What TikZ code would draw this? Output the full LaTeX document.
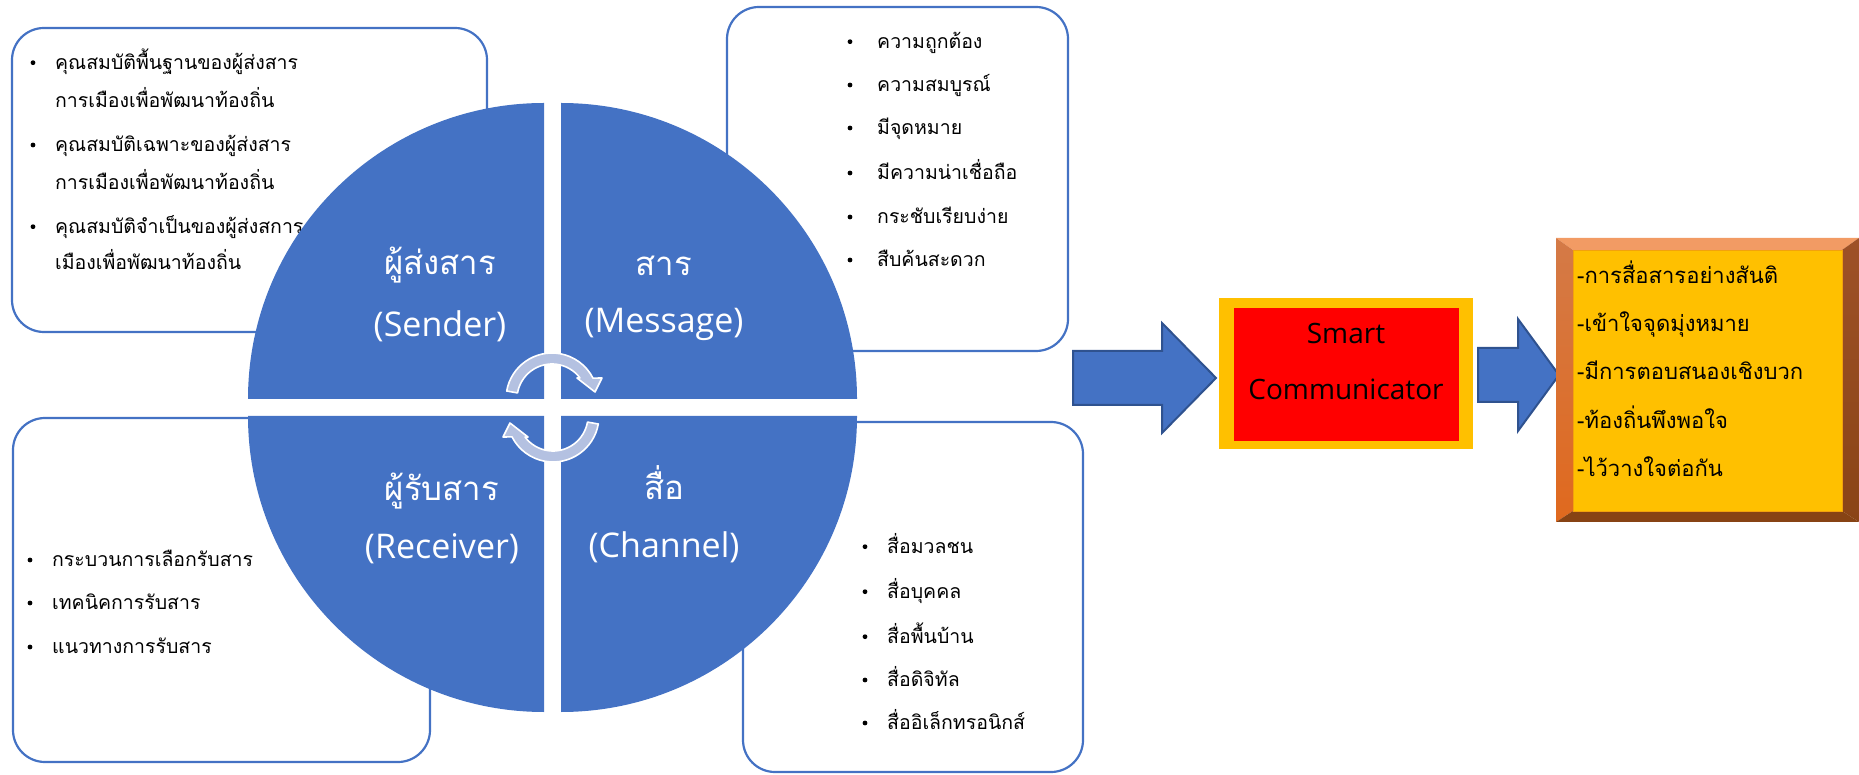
\documentclass[tikz,border=0pt]{standalone}
\usepackage{fontspec}
\setmainfont{Open Sans}
\newfontfamily\thai[Script=Thai]{Loma}
\definecolor{blueA}{HTML}{4472C4}
\definecolor{blueD}{HTML}{2F528F}
\definecolor{cycfill}{HTML}{B4C1E1}
\definecolor{gold}{HTML}{FFC000}
\definecolor{goldline}{HTML}{F2A20C}
\definecolor{bevtop}{HTML}{F29B64}
\definecolor{bevleftA}{HTML}{D47A47}
\definecolor{bevleftB}{HTML}{E0691E}
\definecolor{bevrightA}{HTML}{9E5127}
\definecolor{bevrightB}{HTML}{8A4416}
\definecolor{bevbot}{HTML}{874314}
\begin{document}
\begin{tikzpicture}[x=1pt,y=1pt,
  box/.style={draw=blueA, line width=2.2pt, fill=white, rounded corners=32pt,
    inner sep=0pt, outer sep=0pt, anchor=south west},
  quad/.style={fill=blueA},
  cyc/.style={fill=cycfill, draw=white, line width=1.6pt, line join=round},
  blockarrow/.style={fill=blueA, draw=blueD, line width=2pt, line join=miter},
  item/.style={anchor=base west, inner sep=0pt, text=black,
    font=\thai\fontsize{19.5}{23}\selectfont},
  result/.style={anchor=base west, inner sep=0pt, text=black,
    font=\thai\fontsize{22}{26}\selectfont},
  labth/.style={anchor=base, inner sep=0pt, text=white,
    font=\thai\fontsize{33}{38}\selectfont},
  laben/.style={anchor=base, inner sep=0pt, text=white,
    font=\fontsize{34}{40}\selectfont},
  smarttext/.style={anchor=base, inner sep=0pt, text=black,
    font=\fontsize{28}{32}\selectfont},
  dot/.style={fill=black}
]
\useasboundingbox (0,0) rectangle (1859,774);

% four text panels behind the circle
\node[box, minimum width=475pt, minimum height=304pt] (boxTL) at (12,442) {};
\node[box, minimum width=341pt, minimum height=344pt] (boxTR) at (727,423) {};
\node[box, minimum width=417pt, minimum height=344pt] (boxBL) at (13,12) {};
\node[box, minimum width=340pt, minimum height=350pt] (boxBR) at (743,2) {};

% sender qualities
\foreach \y in {711.3,629,547.3} \fill[dot] (33,\y) circle[radius=2.4];
\node[item] (tl1) at (55,704.7) {คุณสมบัติพื้นฐานของผู้ส่งสาร};
\node[item] (tl2) at (55,666.7) {การเมืองเพื่อพัฒนาท้องถิ่น};
\node[item] (tl3) at (55,622.3) {คุณสมบัติเฉพาะของผู้ส่งสาร};
\node[item] (tl4) at (55,584.7) {การเมืองเพื่อพัฒนาท้องถิ่น};
\node[item] (tl5) at (55,540.7) {คุณสมบัติจำเป็นของผู้ส่งสการ};
\node[item] (tl6) at (55,504.7) {เมืองเพื่อพัฒนาท้องถิ่น};

% message qualities
\foreach \y in {732.3,689,646,601,557,514} \fill[dot] (850,\y) circle[radius=2.4];
\node[item] (tr1) at (877,725.7) {ความถูกต้อง};
\node[item] (tr2) at (877,682.4) {ความสมบูรณ์};
\node[item] (tr3) at (877,639.4) {มีจุดหมาย};
\node[item] (tr4) at (877,594.4) {มีความน่าเชื่อถือ};
\node[item] (tr5) at (877,550.4) {กระชับเรียบง่าย};
\node[item] (tr6) at (877,507.4) {สืบค้นสะดวก};

% receiver items
\foreach \y in {214,171,127} \fill[dot] (30,\y) circle[radius=2.4];
\node[item] (bl1) at (52,207.4) {กระบวนการเลือกรับสาร};
\node[item] (bl2) at (52,164.4) {เทคนิคการรับสาร};
\node[item] (bl3) at (52,120.4) {แนวทางการรับสาร};

% channel items
\foreach \y in {227.3,182.3,137.3,94,51} \fill[dot] (865,\y) circle[radius=2.4];
\node[item] (br1) at (887,220.7) {สื่อมวลชน};
\node[item] (br2) at (887,175.7) {สื่อบุคคล};
\node[item] (br3) at (887,130.7) {สื่อพื้นบ้าน};
\node[item] (br4) at (887,87.4) {สื่อดิจิทัล};
\node[item] (br5) at (887,44.4) {สื่ออิเล็กทรอนิกส์};

% segmented circle
\fill[quad] (544,375) -- (248,375) arc[start angle=180, end angle=90, radius=296] -- cycle;
\fill[quad] (561,375) -- (561,671) arc[start angle=90, end angle=0, radius=296] -- cycle;
\fill[quad] (544,358) -- (544,62) arc[start angle=270, end angle=180, radius=296] -- cycle;
\fill[quad] (561,358) -- (857,358) arc[start angle=0, end angle=-90, radius=296] -- cycle;

% cycle arrows at the centre
\draw[cyc, shift={(552,375)}] (170:46) arc[start angle=170, end angle=27, radius=46]
  -- (50,21) -- (43,7) -- (25,21) -- (37:35) arc[start angle=37, end angle=170, radius=35] -- cycle;
\draw[cyc, shift={(553,358)}, rotate=180] (170:46) arc[start angle=170, end angle=27, radius=46]
  -- (50,21) -- (43,7) -- (25,21) -- (37:35) arc[start angle=37, end angle=170, radius=35] -- cycle;

% quadrant labels
\node[labth] (sendTh) at (440,499.5) {ผู้ส่งสาร};
\node[laben] (sendEn) at (440,437) {(Sender)};
\node[labth] (msgTh) at (664,498) {สาร};
\node[laben] (msgEn) at (664,441) {(Message)};
\node[labth] (recvTh) at (442,273) {ผู้รับสาร};
\node[laben] (recvEn) at (442,215.5) {(Receiver)};
\node[labth] (chanTh) at (664,274) {สื่อ};
\node[laben] (chanEn) at (664,217) {(Channel)};

% block arrow into the communicator box
\draw[blockarrow] (1073,423) -- (1162,423) -- (1162,451) -- (1216,396)
  -- (1162,341) -- (1162,369) -- (1073,369) -- cycle;

% communicator box
\fill[gold] (1219,325) rectangle (1473,476);
\node[fill=red, inner sep=0pt, outer sep=0pt, anchor=south west,
  minimum width=225pt, minimum height=133pt] (comm) at (1234,333) {};
\node[smarttext] (smart1) at (1346,430) {Smart};
\node[smarttext] (smart2) at (1346,374) {Communicator};

% block arrow into the outcome box
\draw[blockarrow] (1478,426) -- (1518,426) -- (1518,455) -- (1559,399)
  -- (1518,343) -- (1518,372) -- (1478,372) -- cycle;

% bevelled outcome box
\fill[bevtop] (1556,536) -- (1859,536) -- (1842,524) -- (1573,524) -- cycle;
\shade[top color=bevleftA, bottom color=bevleftB]
  (1556,536) -- (1573,524) -- (1573,263) -- (1556,252) -- cycle;
\shade[top color=bevrightA, bottom color=bevrightB]
  (1859,536) -- (1842,524) -- (1842,263) -- (1859,252) -- cycle;
\fill[bevbot] (1556,252) -- (1573,263) -- (1842,263) -- (1859,252) -- cycle;
\node[fill=gold, draw=goldline, line width=0.8pt, inner sep=0pt, outer sep=0pt,
  anchor=south west, minimum width=269pt, minimum height=261pt] (outcome) at (1573,263) {};
\node[result] (out1) at (1577,490.7) {-การสื่อสารอย่างสันติ};
\node[result] (out2) at (1577,442.3) {-เข้าใจจุดมุ่งหมาย};
\node[result] (out3) at (1577,394) {-มีการตอบสนองเชิงบวก};
\node[result] (out4) at (1577,345.7) {-ท้องถิ่นพึงพอใจ};
\node[result] (out5) at (1577,297.3) {-ไว้วางใจต่อกัน};
\end{tikzpicture}
\end{document}
